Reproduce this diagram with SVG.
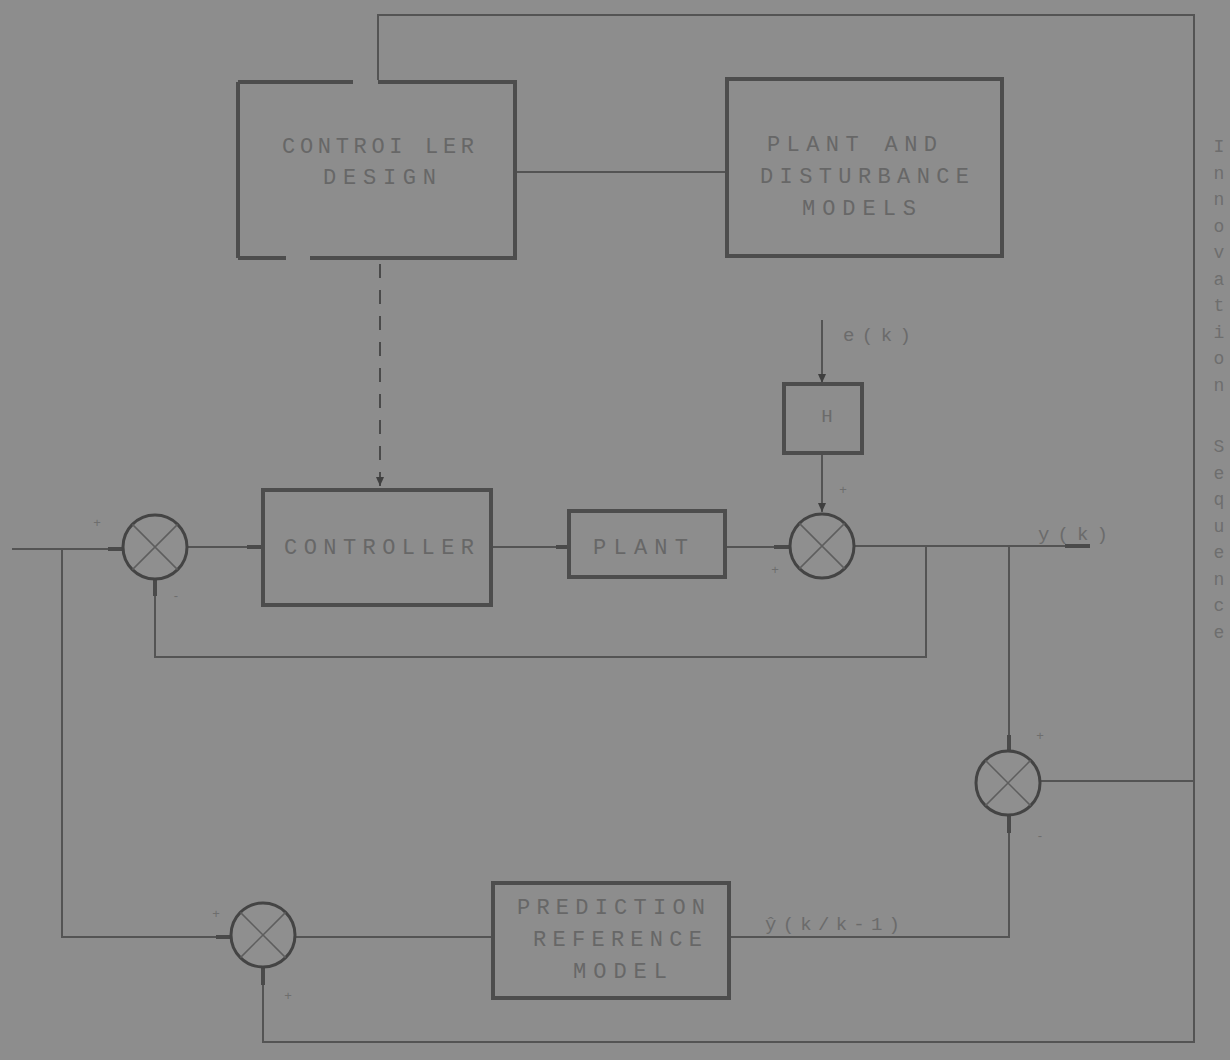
<svg xmlns="http://www.w3.org/2000/svg" width="1230" height="1060" viewBox="0 0 1230 1060">
<defs>
<style>
.bg{fill:#8d8d8d}
.box{fill:none;stroke:#4d4d4d;stroke-width:4}
.sum{fill:#8f8f8f;stroke:#444;stroke-width:3}
.x{stroke:#5e5e5e;stroke-width:1.5}
.ln{fill:none;stroke:#545454;stroke-width:2}
.thk{fill:none;stroke:#4a4a4a;stroke-width:4}
.dash{fill:none;stroke:#4a4a4a;stroke-width:2;stroke-dasharray:14 12}
.t{font-family:"Liberation Mono","DejaVu Sans Mono",monospace;font-size:22px;fill:#676767}
.s{font-family:"Liberation Mono","DejaVu Sans Mono",monospace;font-size:19px;fill:#6b6b6b}
.sg{font-family:"Liberation Sans",sans-serif;font-size:13px;fill:#6e6e6e;text-anchor:middle}
.v{font-family:"Liberation Mono","DejaVu Sans Mono",monospace;font-size:18px;fill:#6e6e6e;text-anchor:middle}
</style>
<marker id="ah" markerWidth="10" markerHeight="10" refX="9" refY="5" orient="auto" markerUnits="userSpaceOnUse">
<path d="M0,1 L9,5 L0,9 Z" fill="#3f3f3f"/>
</marker>
</defs>
<rect class="bg" x="0" y="0" width="1230" height="1060"/>

<g id="connectors">
<path class="ln" d="M12,549 H123"/>
<path class="thk" d="M108,549 H123"/>
<path class="ln" d="M62,549 V937 H231"/>
<path class="thk" d="M216,937 H231"/>
<path class="ln" d="M187,547 H263"/>
<path class="thk" d="M247,547 H263"/>
<path class="ln" d="M491,547 H569"/>
<path class="thk" d="M556,547 H569"/>
<path class="ln" d="M725,547 H790"/>
<path class="thk" d="M774,547 H790"/>
<path class="ln" d="M854,546 H1090"/>
<path class="thk" d="M1065,546 H1090"/>
<path class="ln" d="M926,546 V657 H155 V579"/>
<path class="thk" d="M155,579 V596"/>
<path class="ln" d="M1009,546 V751"/>
<path class="thk" d="M1009,735 V751"/>
<path class="ln" d="M1009,815 V937 H729"/>
<path class="thk" d="M1009,815 V833"/>
<path class="ln" d="M493,937 H295"/>
<path class="ln" d="M263,967 V1042 H1194 V15 H378 V80"/>
<path class="thk" d="M263,967 V985"/>
<path class="ln" d="M1040,781 H1194"/>
<path class="ln" d="M516,172 H727"/>
<path class="dash" d="M380,264 V486" marker-end="url(#ah)"/>
<path class="ln" d="M822,320 V383" marker-end="url(#ah)"/>
<path class="ln" d="M822,453 V512" marker-end="url(#ah)"/>
</g>

<g id="controller-design">
<path class="box" d="M238,82 H353 M378,82 H515 V258 H310 M286,258 H238"/>
<path class="box" d="M238,82 V258"/>
<text class="t" x="282" y="153" textLength="192" lengthAdjust="spacing">CONTROI LER</text>
<text class="t" x="323" y="184" textLength="113" lengthAdjust="spacing">DESIGN</text>
</g>

<g id="plant-disturbance-models">
<rect class="box" x="727" y="79" width="275" height="177"/>
<text class="t" x="767" y="151" textLength="170" lengthAdjust="spacing">PLANT AND</text>
<text class="t" x="760" y="183" textLength="209" lengthAdjust="spacing">DISTURBANCE</text>
<text class="t" x="802" y="215" textLength="114" lengthAdjust="spacing">MODELS</text>
</g>

<g id="controller">
<rect class="box" x="263" y="490" width="228" height="115"/>
<text class="t" x="284" y="554" textLength="190" lengthAdjust="spacing">CONTROLLER</text>
</g>

<g id="plant">
<rect class="box" x="569" y="511" width="156" height="66"/>
<text class="t" x="593" y="554" textLength="95" lengthAdjust="spacing">PLANT</text>
</g>

<g id="h-block">
<rect class="box" x="784" y="384" width="78" height="69"/>
<text class="s" x="827" y="422" text-anchor="middle">H</text>
</g>

<g id="prediction-reference-model">
<rect class="box" x="493" y="883" width="236" height="115"/>
<text class="t" x="517" y="914" textLength="188" lengthAdjust="spacing">PREDICTION</text>
<text class="t" x="533" y="946" textLength="169" lengthAdjust="spacing">REFERENCE</text>
<text class="t" x="573" y="978" textLength="94" lengthAdjust="spacing">MODEL</text>
</g>

<g id="sum1">
<circle class="sum" cx="155" cy="547" r="32"/>
<path class="x" d="M132.4,524.4 L177.6,569.6 M177.6,524.4 L132.4,569.6"/>
<text class="sg" x="97" y="527">+</text>
<text class="sg" x="176" y="600">-</text>
</g>

<g id="sum2">
<circle class="sum" cx="822" cy="546" r="32"/>
<path class="x" d="M799.4,523.4 L844.6,568.6 M844.6,523.4 L799.4,568.6"/>
<text class="sg" x="843" y="494">+</text>
<text class="sg" x="775" y="574">+</text>
</g>

<g id="sum4">
<circle class="sum" cx="1008" cy="783" r="32"/>
<path class="x" d="M985.4,760.4 L1030.6,805.6 M1030.6,760.4 L985.4,805.6"/>
<text class="sg" x="1040" y="740">+</text>
<text class="sg" x="1040" y="840">-</text>
</g>

<g id="sum3">
<circle class="sum" cx="263" cy="935" r="32"/>
<path class="x" d="M240.4,912.4 L285.6,957.6 M285.6,912.4 L240.4,957.6"/>
<text class="sg" x="216" y="918">+</text>
<text class="sg" x="288" y="1000">+</text>
</g>

<g id="labels">
<text class="s" x="843" y="341" textLength="68" lengthAdjust="spacing">e(k)</text>
<text class="s" x="1038" y="540" textLength="70" lengthAdjust="spacing">y(k)</text>
<text class="s" x="765" y="930" textLength="135" lengthAdjust="spacing">ŷ(k/k-1)</text>
<g id="innovation-sequence">
<text class="v" x="1219" y="152">I</text>
<text class="v" x="1219" y="178.5">n</text>
<text class="v" x="1219" y="205">n</text>
<text class="v" x="1219" y="231.5">o</text>
<text class="v" x="1219" y="258">v</text>
<text class="v" x="1219" y="284.5">a</text>
<text class="v" x="1219" y="311">t</text>
<text class="v" x="1219" y="337.5">i</text>
<text class="v" x="1219" y="364">o</text>
<text class="v" x="1219" y="390.5">n</text>
<text class="v" x="1219" y="452">S</text>
<text class="v" x="1219" y="478.5">e</text>
<text class="v" x="1219" y="505">q</text>
<text class="v" x="1219" y="531.5">u</text>
<text class="v" x="1219" y="558">e</text>
<text class="v" x="1219" y="584.5">n</text>
<text class="v" x="1219" y="611">c</text>
<text class="v" x="1219" y="637.5">e</text>
</g>
</g>
</svg>
